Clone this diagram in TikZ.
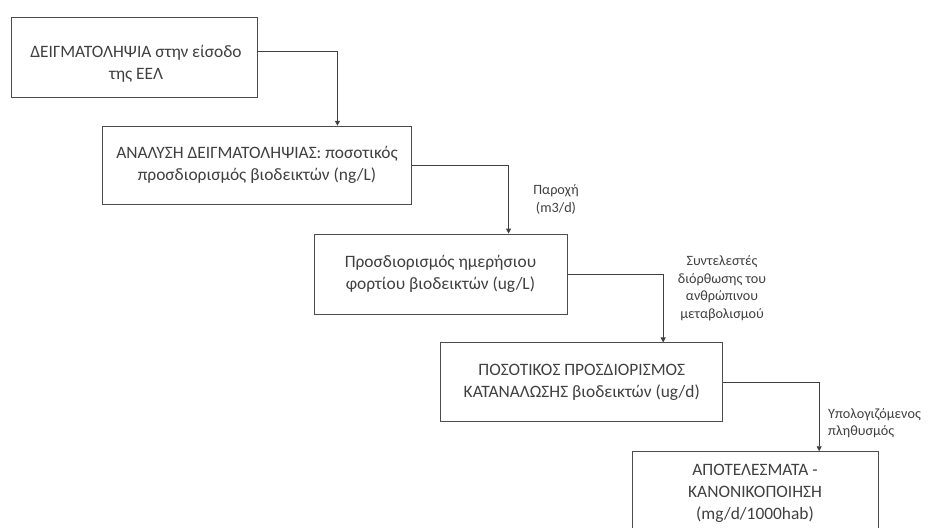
\documentclass[tikz,border=0pt]{standalone}
\usepackage{fontspec}
\setmainfont{Carlito}
\usetikzlibrary{arrows.meta,positioning}
\tikzset{
  box/.style={draw=black!70, line width=0.9pt, rectangle, inner sep=0pt, text=black!75,
    font=\fontsize{17.4}{21.8}\selectfont, align=center},
  boxtext/.style={inner sep=0pt, text=black!75, font=\fontsize{17.4}{21.8}\selectfont, align=center},
  lab/.style={inner sep=0pt, text=black!75, font=\fontsize{14.2}{17.5}\selectfont},
  conn/.style={draw=black!75, line width=0.9pt, -{Triangle[length=5pt,width=5pt]}}
}
\begin{document}
\begin{tikzpicture}[x=1pt,y=-1pt]
\clip (0,0) rectangle (928,527);
\fill[white] (0,0) rectangle (928,527);
% boxes
\node[box, minimum width=246pt, minimum height=80pt] (b1) at (134,57) {};
\node[boxtext] (b1t) at (136,63.5) {ΔΕΙΓΜΑΤΟΛΗΨΙΑ στην είσοδο\\της ΕΕΛ};
\node[box, minimum width=309pt, minimum height=78pt] (b2) at (257,165.2)
  {ΑΝΑΛΥΣΗ ΔΕΙΓΜΑΤΟΛΗΨΙΑΣ: ποσοτικός\\προσδιορισμός βιοδεικτών (ng/L)};
\node[box, minimum width=253pt, minimum height=80pt] (b3) at (440.5,274)
  {Προσδιορισμός ημερήσιου\\φορτίου βιοδεικτών (ug/L)};
\node[box, minimum width=282pt, minimum height=79pt] (b4) at (581.8,382.4)
  {ΠΟΣΟΤΙΚΟΣ ΠΡΟΣΔΙΟΡΙΣΜΟΣ\\ΚΑΤΑΝΑΛΩΣΗΣ βιοδεικτών (ug/d)};
\node[box, minimum width=246pt, minimum height=83pt] (b5) at (755,493.2)
  {ΑΠΟΤΕΛΕΣΜΑΤΑ -\\ΚΑΝΟΝΙΚΟΠΟΙΗΣΗ\\(mg/d/1000hab)};
% labels
\node[lab, align=center] (l1) at (556,199.5) {Παροχή\\(m3/d)};
\node[lab, align=center] (l2) at (722,288) {Συντελεστές\\διόρθωσης του\\ανθρώπινου\\μεταβολισμού};
\node[lab, align=left, anchor=west] (l3) at (828,423) {Υπολογιζόμενος\\πληθυσμός};
% connectors
\draw[conn] ([yshift=6pt]b1.east) -| ([xshift=235.4pt]b2.north west);
\draw[conn] (b2.east) -| ([xshift=195pt]b3.north west);
\draw[conn] (b3.east) -| ([xshift=222.8pt]b4.north west);
\draw[conn] (b4.east) -| ([xshift=187.6pt]b5.north west);
\end{tikzpicture}
\end{document}
